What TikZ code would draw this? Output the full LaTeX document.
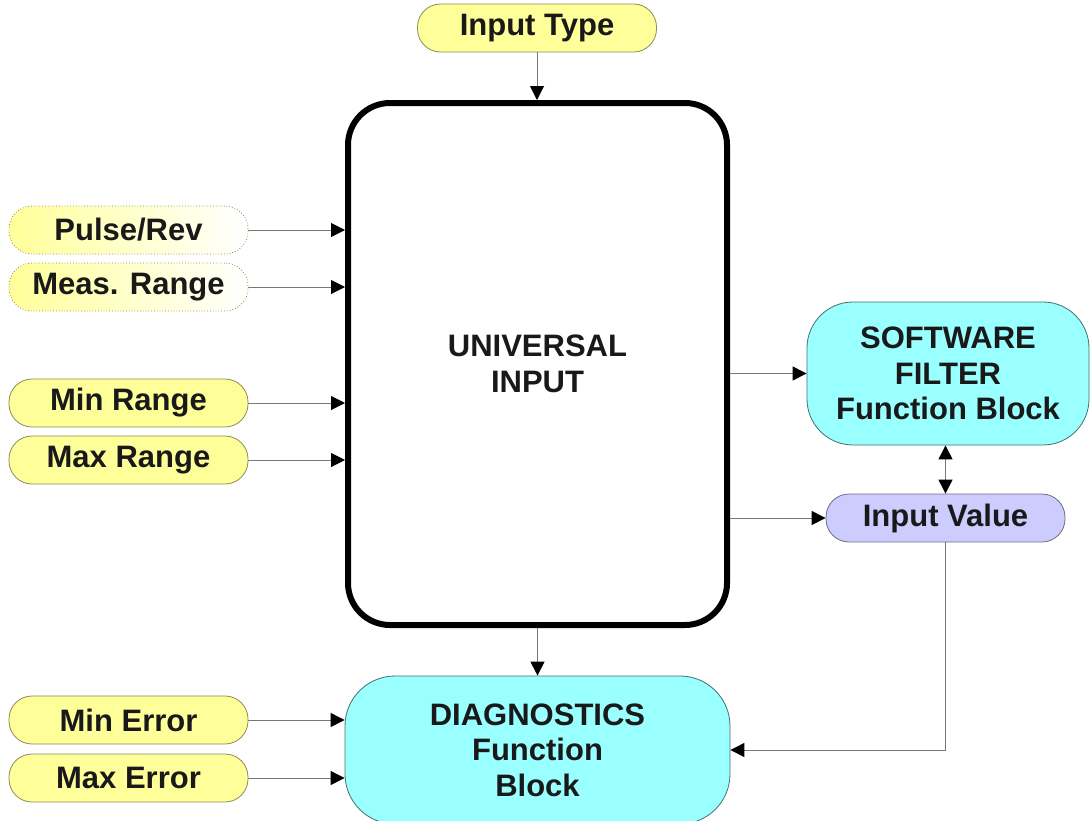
\documentclass[tikz,border=0pt]{standalone}
\usepackage{fontspec}
\setmainfont{Liberation Sans}
\usetikzlibrary{arrows.meta,calc}

\definecolor{paramfill}{RGB}{255,255,153}
\definecolor{paramline}{RGB}{140,140,90}
\definecolor{blockfill}{RGB}{153,255,255}
\definecolor{blockline}{RGB}{70,110,110}
\definecolor{valuefill}{RGB}{204,204,255}
\definecolor{valueline}{RGB}{110,110,130}
\definecolor{wire}{RGB}{120,120,120}
\definecolor{ink}{RGB}{25,25,25}

\tikzset{
  every node/.style={font=\fontsize{31}{35.5}\selectfont\bfseries, text=ink, align=center, inner sep=0pt},
  param/.style={draw=paramline, fill=paramfill, line width=0.8pt, rounded corners=23pt,
    minimum width=239pt, minimum height=48pt},
  fadeparam/.style={draw=paramline, dotted, line width=0.8pt, rounded corners=23pt,
    left color=paramfill, right color=white, minimum width=239pt, minimum height=48pt},
  mainblock/.style={draw=black, line width=6pt, rounded corners=42pt, fill=white,
    minimum width=379pt, minimum height=522pt},
  fblock/.style={draw=blockline, fill=blockfill, line width=0.8pt, rounded corners=46pt},
  valuebox/.style={draw=valueline, fill=valuefill, line width=0.8pt, rounded corners=23pt,
    minimum width=239pt, minimum height=48pt},
  wireto/.style={draw=wire, line width=1pt, -{Triangle[length=14pt,width=14pt,color=black]}},
  wireboth/.style={draw=wire, line width=1pt,
    {Triangle[length=14pt,width=14pt,color=black]}-{Triangle[length=14pt,width=14pt,color=black]}},
}

\begin{document}
\begin{tikzpicture}[x=1pt,y=-1pt]
\useasboundingbox (0,0) rectangle (1090,820);
\clip (0,0) rectangle (1090,820);

% parameter inputs
\node[param] (itype) at (537,28) {Input Type};
\node[fadeparam] (pulse) at (128.5,230) {Pulse/Rev};
\node[fadeparam] (meas) at (128.5,287) {Meas. Range};
\node[param] (minr) at (128.5,403) {Min Range};
\node[param] (maxr) at (128.5,460) {Max Range};
\node[param] (mine) at (128.5,720) {Min Error};
\node[param] (maxe) at (128.5,778) {Max Error};

% main blocks
\node[mainblock] (ui) at (537.5,364) {UNIVERSAL\\INPUT};
\node[fblock, minimum width=282pt, minimum height=143pt] (sf) at (948,373.5)
  {SOFTWARE\\FILTER\\Function Block};
\node[valuebox] (iv) at (945.5,518) {Input Value};
\node[fblock, minimum width=385pt, minimum height=148pt, rounded corners=50pt] (diag) at (537.5,750)
  {DIAGNOSTICS\\Function\\Block};

% connectors
\draw[wireto] (itype.south) -- (itype.south |- ui.north);
\draw[wireto] (pulse.east) -- (pulse.east -| ui.west);
\draw[wireto] (meas.east) -- (meas.east -| ui.west);
\draw[wireto] (minr.east) -- (minr.east -| ui.west);
\draw[wireto] (maxr.east) -- (maxr.east -| ui.west);
\draw[wireto] (ui.east |- sf.west) -- (sf.west);
\draw[wireto] (ui.east |- iv.west) -- (iv.west);
\draw[wireboth] (iv.north |- sf.south) -- (iv.north);
\draw[wireto] (iv.south) |- (diag.east);
\draw[wireto] (ui.south) -- (ui.south |- diag.north);
\draw[wireto] (mine.east) -- (mine.east -| diag.west);
\draw[wireto] (maxe.east) -- (maxe.east -| diag.west);
\end{tikzpicture}
\end{document}
